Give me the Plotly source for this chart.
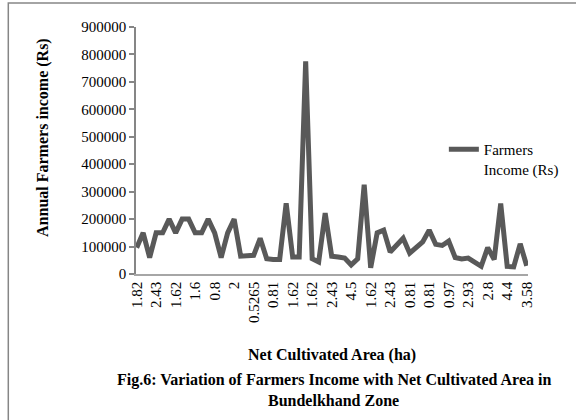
import plotly.graph_objects as go

# ---- data ----
income = [96000, 150000, 60000, 150000, 150000, 200000, 150000, 200000, 200000, 150000,
          150000, 200000, 150000, 60000, 150000, 200000, 65000, 68000, 68000, 130000,
          56000, 53000, 53000, 258000, 62000, 62000, 775000, 56000, 44000, 222000,
          65000, 62000, 58000, 33000, 55000, 325000, 23000, 150000, 160000, 80000,
          105000, 130000, 76000, 97000, 117000, 160000, 108000, 104000, 120000, 60000,
          55000, 58000, 42000, 28000, 96000, 53000, 257000, 28000, 26000, 110000,
          30000]
x_index = list(range(len(income)))
tick_labels = ["1.82", "2.43", "1.62", "1.6", "0.8", "2", "0.5265", "0.81", "1.62", "1.62",
               "2.43", "4.5", "1.62", "2.43", "0.81", "0.81", "0.97", "2.93", "2.8", "4.4",
               "3.58"]
tick_positions = x_index[::3]
y_ticks = [0, 100000, 200000, 300000, 400000, 500000, 600000, 700000, 800000, 900000]

FONT = "Liberation Serif"
L, R, T, B = 136, 44, 27, 146
W, H = 576, 420
pw, ph = W - L - R, H - T - B

def px_x(px):
    return (px - L) / pw

def px_y(py):
    return (H - B - py) / ph

fig = go.Figure()
fig.add_trace(go.Scatter(
    x=x_index, y=income, mode="lines", name="Farmers<br>Income (Rs)",
    line=dict(color="#595959", width=5),
))

fig.update_layout(
    width=W, height=H,
    margin=dict(l=L, r=R, t=T, b=B),
    paper_bgcolor="white", plot_bgcolor="white",
    font=dict(family=FONT, size=15, color="black"),
    showlegend=True,
    legend=dict(x=px_x(447), y=px_y(133), xanchor="left", yanchor="top",
                font=dict(family=FONT, size=15, color="black"),
                bgcolor="rgba(0,0,0,0)", valign="top"),
    xaxis=dict(range=[-0.1, 60.2], tickmode="array", tickvals=tick_positions,
               ticktext=tick_labels, tickangle=-90, showgrid=False, zeroline=False,
               showline=True, linecolor="#a6a6a6", linewidth=1.5, ticks="",
               tickfont=dict(family=FONT, size=15, color="black")),
    yaxis=dict(range=[0, 900000], tickmode="array", tickvals=y_ticks,
               ticktext=[str(v) for v in y_ticks], showgrid=False, zeroline=False,
               showline=True, linecolor="#868686", linewidth=1.5, ticks="outside",
               ticklen=5, tickcolor="#868686", tickwidth=1.5,
               tickfont=dict(family=FONT, size=15, color="black")),
    shapes=[dict(type="rect", xref="paper", yref="paper",
                 x0=px_x(7), x1=px_x(590), y0=px_y(440), y1=px_y(3),
                 line=dict(color="#868686", width=1.5), fillcolor="rgba(0,0,0,0)",
                 layer="below")],
    annotations=[
        dict(text="<b>Annual Farmers income (Rs)</b>", xref="paper", yref="paper",
             x=px_x(42), y=px_y(137), textangle=-90, showarrow=False,
             xanchor="center", yanchor="middle", font=dict(family=FONT, size=16)),
        dict(text="<b>Net Cultivated Area (ha)</b>", xref="paper", yref="paper",
             x=px_x(334), y=px_y(355), showarrow=False,
             xanchor="center", yanchor="middle", font=dict(family=FONT, size=16)),
        dict(text="<b>Fig.6: Variation of Farmers Income with Net Cultivated Area in</b>",
             xref="paper", yref="paper", x=px_x(336), y=px_y(380), showarrow=False,
             xanchor="center", yanchor="middle", font=dict(family=FONT, size=16)),
        dict(text="<b>Bundelkhand Zone</b>",
             xref="paper", yref="paper", x=px_x(336), y=px_y(401), showarrow=False,
             xanchor="center", yanchor="middle", font=dict(family=FONT, size=16)),
    ],
)

fig.write_html("out.html", config={"displayModeBar": False},
               post_script="document.body.style.margin='0';")
